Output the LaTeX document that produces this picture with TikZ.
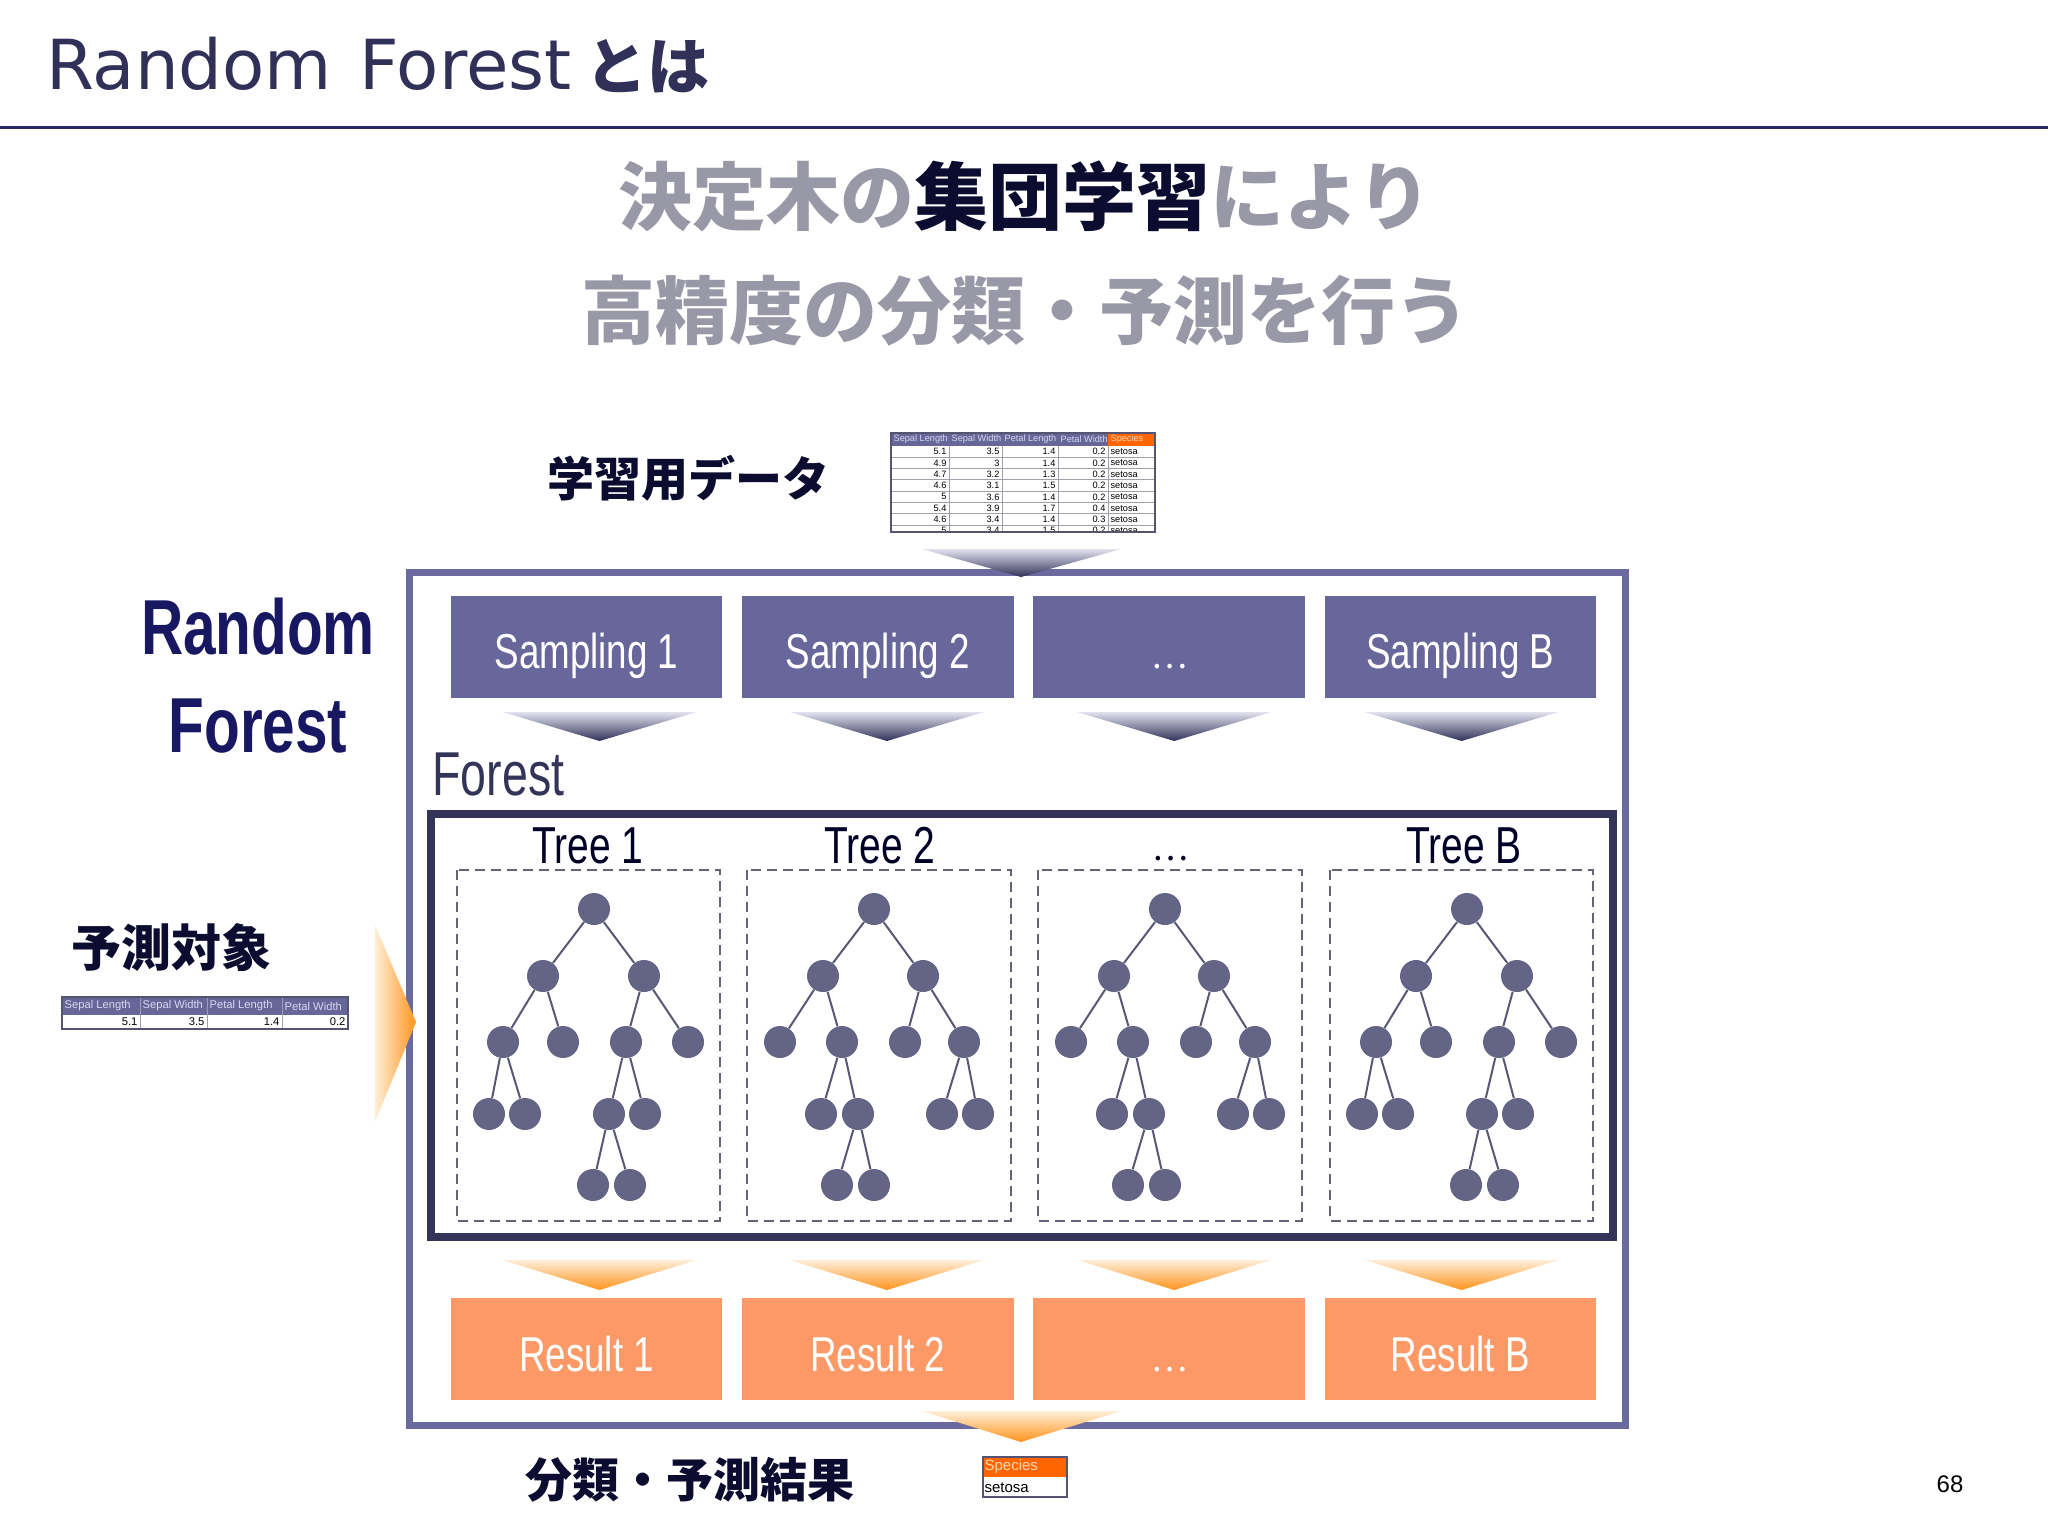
\documentclass[tikz,border=0pt]{standalone}
\usepackage{fontspec}
\setmainfont{Liberation Sans}
\newfontfamily\jp{Noto Sans CJK JP}
\newfontfamily\narrow[FakeStretch=0.75]{Liberation Sans}
\newfontfamily\ttlfont{DejaVu Sans}
\usetikzlibrary{positioning}

% colours
\definecolor{ink}{RGB}{48,48,88}
\definecolor{rulec}{RGB}{40,40,100}
\definecolor{deepnavy}{RGB}{12,12,48}
\definecolor{royal}{RGB}{24,24,98}
\definecolor{sampfill}{RGB}{103,103,155}
\definecolor{framec}{RGB}{106,106,158}
\definecolor{forestc}{RGB}{52,52,88}
\definecolor{resfill}{RGB}{252,153,102}
\definecolor{knotc}{RGB}{100,100,134}
\definecolor{twigc}{RGB}{88,88,118}
\definecolor{dashc}{RGB}{100,100,120}
\definecolor{subgrey}{RGB}{152,152,166}
\definecolor{hdrfill}{RGB}{102,102,153}
\definecolor{hdrtext}{RGB}{215,215,240}
\definecolor{spfill}{RGB}{255,102,0}
\definecolor{sptext}{RGB}{255,215,185}
\definecolor{gridc}{RGB}{160,160,170}
\definecolor{tabline}{RGB}{85,85,115}
\definecolor{pale}{RGB}{255,238,216}
\definecolor{amber}{RGB}{255,148,28}
\definecolor{lilac}{RGB}{226,226,238}

\tikzset{
  stepbox/.style={fill=sampfill, minimum width=135.8pt, minimum height=51pt,
    inner sep=0pt, text=white, text height=22pt, text depth=0pt,
    font=\narrow\fontsize{24.5}{24.5}\selectfont},
  resbox/.style={stepbox, fill=resfill},
  knot/.style={circle, fill=knotc, inner sep=0pt, minimum size=16pt},
  twig/.style={draw=twigc, line width=1pt},
  treebox/.style={draw=dashc, line width=1pt, dash pattern=on 5pt off 3pt},
  treelabel/.style={anchor=base, text=black!85!blue, font=\narrow\fontsize{26}{26}\selectfont},
  cell/.style={inner sep=0.6pt, font=\fontsize{4.6}{4.6}\selectfont},
  jplabel/.style={text=deepnavy, font=\jp\bfseries\fontsize{23.5}{23.5}\selectfont},
  treeA/.pic={
    \node[knot] (-r) at (0,0) {};
    \node[knot] (-a) at (-51,67) {};
    \node[knot] (-b) at (50,67) {};
    \node[knot] (-c) at (-91,133) {};
    \node[knot] (-d) at (-31,133) {};
    \node[knot] (-e) at (32,133) {};
    \node[knot] (-f) at (94,133) {};
    \node[knot] (-g) at (-105,205) {};
    \node[knot] (-h) at (-69,205) {};
    \node[knot] (-i) at (15,205) {};
    \node[knot] (-j) at (51,205) {};
    \node[knot] (-k) at (-1,276) {};
    \node[knot] (-l) at (36,276) {};
    \draw[twig] (-r) -- (-a) (-r) -- (-b) (-a) -- (-c) (-a) -- (-d)
      (-b) -- (-e) (-b) -- (-f) (-c) -- (-g) (-c) -- (-h)
      (-e) -- (-i) (-e) -- (-j) (-i) -- (-k) (-i) -- (-l);
  },
  treeB/.pic={
    \node[knot] (-r) at (0,0) {};
    \node[knot] (-a) at (-51,67) {};
    \node[knot] (-b) at (49,67) {};
    \node[knot] (-c) at (-94,133) {};
    \node[knot] (-d) at (-32,133) {};
    \node[knot] (-e) at (31,133) {};
    \node[knot] (-f) at (90,133) {};
    \node[knot] (-g) at (-53,205) {};
    \node[knot] (-h) at (-16,205) {};
    \node[knot] (-i) at (68,205) {};
    \node[knot] (-j) at (104,205) {};
    \node[knot] (-k) at (-37,276) {};
    \node[knot] (-l) at (0,276) {};
    \draw[twig] (-r) -- (-a) (-r) -- (-b) (-a) -- (-c) (-a) -- (-d)
      (-b) -- (-e) (-b) -- (-f) (-d) -- (-g) (-d) -- (-h)
      (-f) -- (-i) (-f) -- (-j) (-h) -- (-k) (-h) -- (-l);
  }
}

\begin{document}
\begin{tikzpicture}[x=0.5pt, y=-0.5pt]
\fill[white] (0,0) rectangle (2048,1536);
\useasboundingbox (0,0) rectangle (2048,1536);

% heading
\node[anchor=base west, inner sep=0pt, text=ink, font=\ttlfont\fontsize{34.5}{34.5}\selectfont] (title) at (46,90)
  {Random\hspace{0.4em}Forest\hspace{0.2em}{\jp\bfseries\fontsize{31}{31}\selectfont とは}};
\draw[rulec, line width=1.5pt] (0,127) -- (2048,127);
\node[text=subgrey, font=\jp\bfseries\fontsize{37}{37}\selectfont] (sub1) at (1025,196)
  {決定木の\textcolor{deepnavy}{集団学習}により};
\node[text=subgrey, font=\jp\bfseries\fontsize{37}{37}\selectfont] (sub2) at (1025,311)
  {高精度の分類・予測を行う};

\node[jplabel] (train) at (688,478) {学習用データ};
\node[align=center, text=royal, font=\narrow\bfseries\fontsize{39}{49}\selectfont] (rf) at (258,676) {Random\\Forest};
\node[jplabel, font=\jp\bfseries\fontsize{25}{25}\selectfont] (query) at (171,948) {予測対象};
\node[jplabel] (outcome) at (690,1480) {分類・予測結果};

% training data
\fill[hdrfill] (891,433) rectangle (1108,446);
\fill[spfill] (1108,433) rectangle (1155,446);
\foreach \h/\x in {Sepal Length/892, Sepal Width/950, Petal Length/1003, Petal Width/1059}
  \node[cell, anchor=west, text=hdrtext] (h\x) at (\x,439.5) {\h};
\node[cell, anchor=west, text=sptext] (hsp) at (1109,439.5) {Species};
\begin{scope}
\clip (891,433) rectangle (1155,532);
\foreach \a/\b/\c/\d [count=\k] in {5.1/3.5/1.4/0.2, 4.9/3/1.4/0.2, 4.7/3.2/1.3/0.2,
    4.6/3.1/1.5/0.2, 5/3.6/1.4/0.2, 5.4/3.9/1.7/0.4, 4.6/3.4/1.4/0.3, 5/3.4/1.5/0.2}{
  \pgfmathsetmacro\yy{440.35+11.3*\k}
  \node[cell, anchor=east] (r\k-a) at (948,\yy) {\a};
  \node[cell, anchor=east] (r\k-b) at (1001,\yy) {\b};
  \node[cell, anchor=east] (r\k-c) at (1057,\yy) {\c};
  \node[cell, anchor=east] (r\k-d) at (1107,\yy) {\d};
  \node[cell, anchor=west] (r\k-e) at (1109,\yy) {setosa};
  \draw[gridc, line width=0.5pt] (891,{\yy+5.65}) -- (1155,{\yy+5.65});
}
\foreach \x in {949,1002,1058,1108}
  \draw[gridc, line width=0.5pt] (\x,446) -- (\x,532);
\end{scope}
\draw[tabline, line width=1.2pt] (891,433) rectangle (1155,532);

% random forest frame
\draw[framec, line width=3.5pt] (409,572) rectangle (1625,1425);
\foreach \n/\x/\t/\u in {1/586.5/Sampling 1/Result 1, 2/877.8/Sampling 2/Result 2,
    3/1169/{\jp\fontsize{17}{17}\selectfont …}/{\jp\fontsize{17}{17}\selectfont …}, 4/1460.3/Sampling B/Result B}{
  \node[stepbox] (s\n) at (\x,646.5) {\t};
  \node[resbox] (res\n) at (\x,1349.3) {\u};
}
\foreach \x in {599.5,886.9,1174.2,1461.6}{
  \shade[top color=lilac, bottom color=ink] (\x-97,712) -- (\x+97,712) -- (\x,741) -- cycle;
  \shade[top color=pale, bottom color=amber] (\x-97,1260) -- (\x+97,1260) -- (\x,1290) -- cycle;
}

% forest
\node[anchor=base west, inner sep=0pt, text=forestc, font=\narrow\fontsize{31}{31}\selectfont] (forest) at (432,795) {Forest};
\draw[forestc, line width=4pt] (431,814) rectangle (1613,1237);
\draw[treebox] (457,870) rectangle (720,1221);
\draw[treebox] (747,870) rectangle (1011,1221);
\draw[treebox] (1038,870) rectangle (1302,1221);
\draw[treebox] (1330,870) rectangle (1593,1221);
\node[treelabel] (l1) at (588,863) {Tree 1};
\node[treelabel] (l2) at (880,863) {Tree 2};
\node[treelabel, font=\jp\fontsize{17}{17}\selectfont] (l3) at (1170,860) {…};
\node[treelabel] (l4) at (1464,863) {Tree B};
\pic (t1) at (594,909) {treeA};
\pic (t2) at (874,909) {treeB};
\pic (t3) at (1165,909) {treeB};
\pic (t4) at (1467,909) {treeA};

% in and out
\shade[top color=lilac, bottom color=ink] (922,549) -- (1121,549) -- (1021,577) -- cycle;
\shade[top color=pale, bottom color=amber] (922,1411) -- (1121,1411) -- (1021,1442) -- cycle;
\shade[left color=pale, right color=amber] (375,925) -- (416,1022) -- (375,1122) -- cycle;

% query row
\fill[hdrfill] (62,997) rectangle (348,1015);
\foreach \h/\x in {Sepal Length/63, Sepal Width/141, Petal Length/208, Petal Width/283}
  \node[cell, anchor=west, text=hdrtext, font=\fontsize{5.6}{5.6}\selectfont] (q\x) at (\x,1006) {\h};
\foreach \v/\x in {5.1/139, 3.5/206, 1.4/281, 0.2/347}
  \node[cell, anchor=east, font=\fontsize{5.6}{5.6}\selectfont] (v\x) at (\x,1022) {\v};
\foreach \x in {140,207,282}
  \draw[gridc, line width=0.5pt] (\x,997) -- (\x,1029);
\draw[tabline, line width=1.2pt] (62,997) rectangle (348,1029);

% answer
\fill[spfill] (983,1457) rectangle (1067,1477);
\node[cell, anchor=west, text=sptext, font=\fontsize{7.5}{7.5}\selectfont] (ans-h) at (983,1467) {Species};
\node[cell, anchor=west, font=\fontsize{7.5}{7.5}\selectfont] (ans-v) at (983,1488) {setosa};
\draw[tabline, line width=1.2pt] (983,1457) rectangle (1067,1497);

\node[font=\fontsize{12}{12}\selectfont] (page) at (1950,1484) {68};
\end{tikzpicture}
\end{document}
